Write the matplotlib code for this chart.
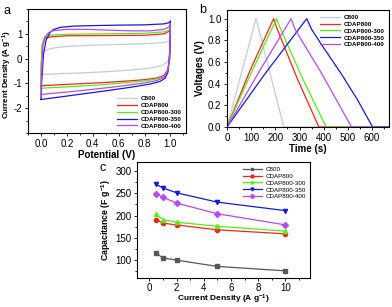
import matplotlib.pyplot as plt
import numpy as np
from matplotlib.ticker import MultipleLocator

plt.rcParams['font.family'] = ['Liberation Sans', 'DejaVu Sans']
plt.rcParams['mathtext.default'] = 'regular'
plt.rcParams['axes.unicode_minus'] = False

names = ['C800', 'CDAP800', 'CDAP800-300', 'CDAP800-350', 'CDAP800-400']
colors_ab = ['#c4ccd4', '#ff2020', '#55ee10', '#1818e0', '#b848f8']
colors_c = ['#4f5a5a', '#ff2020', '#55ee10', '#1818e0', '#b848f8']
markers_c = ['s', 'o', '^', 'v', 'D']

# CV loops (a): forward branch then backward branch
cv_up_x = [
    [0.0, 0.005, 0.02, 0.05, 0.1, 0.2, 0.4, 0.6, 0.8, 0.95, 1.0],
    [0.0, 0.003, 0.01, 0.03, 0.08, 0.2, 0.5, 0.8, 0.95, 0.99, 1.0],
    [0.0, 0.003, 0.01, 0.03, 0.08, 0.2, 0.5, 0.8, 0.95, 0.99, 1.0],
    [0.0, 0.005, 0.02, 0.04, 0.07, 0.1, 0.15, 0.25, 0.4, 0.6, 0.8, 0.95, 0.99, 1.0],
    [0.0, 0.005, 0.015, 0.03, 0.06, 0.1, 0.2, 0.35, 0.5, 0.7, 0.85, 0.95, 0.99, 1.0],
]
cv_up_y = [
    [-0.64, 0.0, 0.28, 0.37, 0.43, 0.49, 0.54, 0.57, 0.6, 0.65, 0.72],
    [-1.1, -0.2, 0.55, 0.82, 0.88, 0.92, 0.93, 0.94, 1.0, 1.1, 1.25],
    [-1.2, -0.3, 0.6, 0.88, 0.95, 0.98, 1.0, 1.02, 1.08, 1.15, 1.28],
    [-1.65, -1.0, 0.2, 0.75, 1.05, 1.18, 1.26, 1.31, 1.33, 1.35, 1.36, 1.4, 1.45, 1.52],
    [-1.45, -0.6, 0.5, 0.85, 1.05, 1.13, 1.18, 1.18, 1.15, 1.12, 1.12, 1.18, 1.28, 1.42],
]
cv_lo_x = [
    [1.0, 0.99, 0.97, 0.93, 0.85, 0.7, 0.5, 0.3, 0.1, 0.0],
    [1.0, 0.995, 0.98, 0.95, 0.9, 0.8, 0.6, 0.4, 0.2, 0.05, 0.0],
    [1.0, 0.995, 0.98, 0.95, 0.9, 0.8, 0.6, 0.4, 0.2, 0.05, 0.0],
    [1.0, 0.995, 0.98, 0.96, 0.92, 0.85, 0.7, 0.5, 0.3, 0.1, 0.0],
    [1.0, 0.995, 0.98, 0.95, 0.9, 0.8, 0.6, 0.4, 0.2, 0.05, 0.0],
]
cv_lo_y = [
    [0.72, 0.0, -0.17, -0.28, -0.38, -0.46, -0.53, -0.58, -0.62, -0.64],
    [1.25, 0.0, -0.45, -0.68, -0.78, -0.85, -0.93, -0.99, -1.04, -1.08, -1.1],
    [1.28, 0.0, -0.55, -0.75, -0.82, -0.9, -1.0, -1.08, -1.14, -1.18, -1.2],
    [1.52, 0.3, -0.55, -0.78, -0.92, -1.02, -1.15, -1.3, -1.44, -1.58, -1.65],
    [1.42, 0.2, -0.5, -0.75, -0.88, -0.98, -1.12, -1.24, -1.35, -1.42, -1.45],
]

# GCD curves (b)
gcd_t = [
    [0, 120, 235, 670],
    [0, 95, 193, 203, 290, 380, 670],
    [0, 100, 205, 217, 310, 410, 670],
    [0, 160, 330, 350, 400, 470, 540, 602, 670],
    [0, 130, 265, 282, 330, 390, 450, 515, 670],
]
gcd_v = [
    [0, 1.0, 0, 0],
    [0, 0.52, 1.0, 0.93, 0.45, 0, 0],
    [0, 0.5, 1.0, 0.93, 0.46, 0, 0],
    [0, 0.5, 1.0, 0.9, 0.73, 0.5, 0.25, 0, 0],
    [0, 0.5, 1.0, 0.9, 0.72, 0.5, 0.26, 0, 0],
]

# rate capability (c)
current_density = [0.5, 1, 2, 5, 10]
capacitance = [
    [116, 105, 100, 86, 76],
    [191, 183, 179, 168, 159],
    [203, 191, 185, 176, 165],
    [270, 262, 251, 230, 211],
    [249, 241, 228, 204, 179],
]

fig = plt.figure(figsize=(3.92, 3.07), dpi=100)
W, H = 392, 307


def px_axes(l, t, r, b):
    return fig.add_axes([l / W, (H - b) / H, (r - l) / W, (b - t) / H])


def style(ax):
    ax.tick_params(which='both', direction='out', labelsize=7, width=0.6, pad=1.5)
    ax.tick_params(which='major', length=2.5)
    ax.tick_params(which='minor', length=1.5)
    for s in ax.spines.values():
        s.set_linewidth(0.8)


lab = dict(fontsize=7, fontweight='bold')

# ---- a
ax = px_axes(28, 9, 186, 133)
for i in range(5):
    x = cv_up_x[i] + cv_lo_x[i]
    y = cv_up_y[i] + cv_lo_y[i]
    ax.plot(x, y, color=colors_ab[i], lw=0.9, label=names[i])
ax.set_xlim(-0.1, 1.12)
ax.set_ylim(-3, 2)
ax.xaxis.set_minor_locator(MultipleLocator(0.1))
ax.yaxis.set_minor_locator(MultipleLocator(0.5))
ax.set_yticks([-2, -1, 0, 1])
ax.set_xticks([0, 0.2, 0.4, 0.6, 0.8, 1.0])
ax.set_xticklabels(['0.0', '0.2', '0.4', '0.6', '0.8', '1.0'])
style(ax)
ax.set_xlabel('Potential (V)', labelpad=1, **lab)
ax.set_ylabel('Current Density (A g$^{-1}$)', fontsize=5.8, fontweight='bold')
ax.yaxis.set_label_coords(-0.09, 0.47)
leg = ax.legend(loc='lower right', fontsize=4.5, frameon=False, handlelength=3.2,
                labelspacing=0.25, borderaxespad=0.3, handletextpad=0.6)
for t in leg.get_texts():
    t.set_fontweight('bold')
fig.text(3 / W, 1 - 14 / H, 'a', fontsize=9)

# ---- b
ax = px_axes(227, 10, 389, 127)
for i in range(5):
    ax.plot(gcd_t[i], gcd_v[i], color=colors_ab[i], lw=0.9, label=names[i])
ax.set_xlim(0, 670)
ax.set_ylim(0, 1.08)
ax.xaxis.set_major_locator(MultipleLocator(100))
ax.xaxis.set_minor_locator(MultipleLocator(50))
ax.yaxis.set_minor_locator(MultipleLocator(0.1))
ax.set_yticks([0, 0.2, 0.4, 0.6, 0.8, 1.0])
ax.set_yticklabels(['0.0', '0.2', '0.4', '0.6', '0.8', '1.0'])
style(ax)
ax.set_xlabel('Time (s)', labelpad=1, **lab)
ax.set_ylabel('Voltages (V)', labelpad=2, **lab)
leg = ax.legend(loc='upper right', fontsize=4.5, frameon=False, handlelength=3.2,
                labelspacing=0.25, borderaxespad=0.3, handletextpad=0.6)
for t in leg.get_texts():
    t.set_fontweight('bold')
fig.text(199 / W, 1 - 13 / H, 'b', fontsize=9)

# ---- c
ax = px_axes(137, 162, 310, 278)
for i in range(5):
    ax.plot(current_density, capacitance[i], color=colors_c[i], lw=0.9,
            marker=markers_c[i], ms=3, label=names[i])
ax.set_xlim(-0.9, 11.8)
ax.set_ylim(60, 320)
ax.xaxis.set_minor_locator(MultipleLocator(1))
ax.yaxis.set_minor_locator(MultipleLocator(25))
ax.set_yticks([100, 150, 200, 250, 300])
ax.set_xticks([0, 2, 4, 6, 8, 10])
style(ax)
ax.tick_params(axis='x', pad=1)
ax.set_xlabel('Current Density (A g$^{-1}$)', fontsize=6, fontweight='bold')
ax.xaxis.set_label_coords(0.5, -0.125)
ax.set_ylabel('Capacitance (F g$^{-1}$)', labelpad=2, fontsize=6.3, fontweight='bold')
ax.legend(loc='upper right', fontsize=4.5, frameon=False, handlelength=3.0,
          labelspacing=0.25, borderaxespad=0.3, handletextpad=0.6, markerscale=0.7)
fig.text(100 / W, 1 - 171 / H, 'c', fontsize=9)

fig.savefig('out.png', dpi=100)
